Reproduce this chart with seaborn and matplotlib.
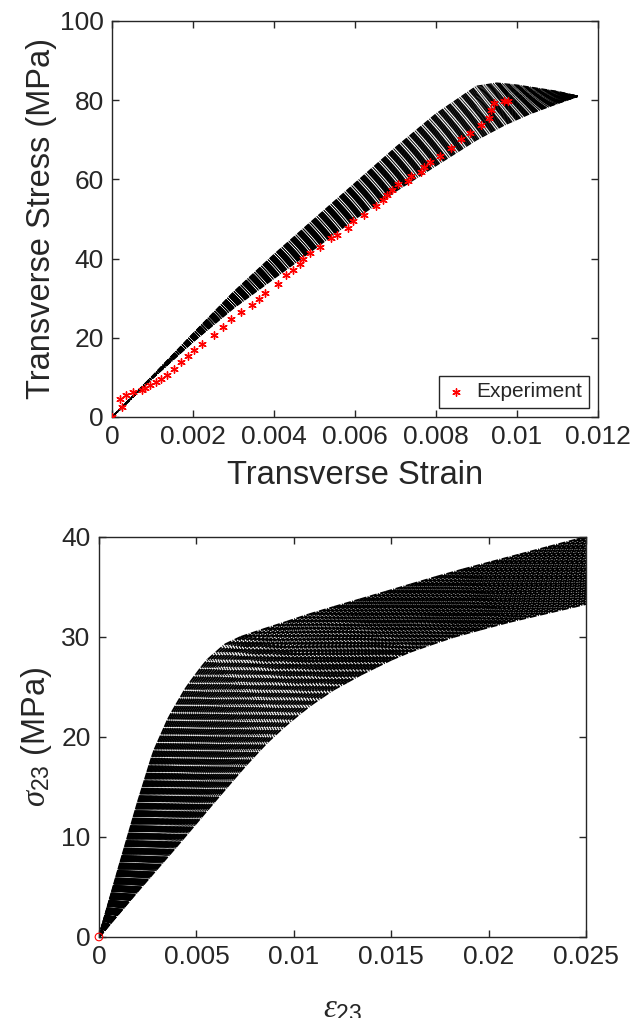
import numpy as np
import pandas as pd
import matplotlib
matplotlib.use('Agg')
import matplotlib.pyplot as plt
import seaborn as sns
from matplotlib.ticker import FuncFormatter

# experiment points, top panel (transverse strain, stress MPa)
exp_strain = [0.0, 0.000256, 0.00021, 0.000355, 0.00052, 0.00073, 0.00081, 0.00093, 0.00108,
              0.00122, 0.00135, 0.00153, 0.0017, 0.00187, 0.00203, 0.00223, 0.00252, 0.00273,
              0.00293, 0.00318, 0.00345, 0.00362, 0.00377, 0.00409, 0.0043, 0.00447, 0.00465,
              0.00472, 0.00488, 0.00513, 0.0054, 0.00556, 0.00583, 0.00596, 0.00622, 0.00651,
              0.00668, 0.00678, 0.00691, 0.00705, 0.0073, 0.00738, 0.00764, 0.00771, 0.00786,
              0.00811, 0.00837, 0.00862, 0.00884, 0.0091, 0.00932, 0.00936, 0.00943, 0.00968,
              0.00979]
exp_stress = [0.0, 2.5, 4.6, 5.5, 6.3, 6.9, 7.2, 8.0, 8.8,
              9.7, 10.5, 12.2, 13.9, 15.3, 17.0, 18.5, 20.6, 22.7,
              24.7, 26.5, 28.2, 29.7, 31.2, 33.7, 35.8, 37.2, 38.7,
              40.0, 41.3, 42.8, 45.1, 45.9, 47.7, 49.5, 51.1, 53.2,
              54.7, 56.0, 57.3, 58.9, 59.5, 60.9, 61.9, 63.2, 64.3,
              65.9, 68.0, 70.3, 71.6, 73.7, 75.6, 77.5, 79.3, 79.8,
              79.8]

# simulated band, top panel: stiffest and most compliant edge curves
top_stiff_strain = [0, 0.001, 0.002, 0.003, 0.004, 0.005, 0.006, 0.007, 0.008, 0.009, 0.0095, 0.010, 0.011, 0.0115]
top_stiff_stress = [0, 10.3, 21.0, 31.5, 41.0, 50.0, 59.0, 68.0, 76.5, 83.5, 84.3, 83.8, 82.2, 81.0]
top_soft_strain = [0, 0.001, 0.002, 0.003, 0.004, 0.005, 0.006, 0.007, 0.008, 0.009, 0.0097, 0.0103, 0.0109, 0.0115]
top_soft_stress = [0, 9.8, 19.0, 27.5, 35.0, 42.5, 50.0, 57.0, 63.5, 70.0, 73.8, 76.5, 78.8, 81.0]

# simulated band, bottom panel (shear strain eps23, sigma23 MPa)
bot_stiff_strain = [0, 0.001, 0.002, 0.0028, 0.0036, 0.0045, 0.0055, 0.0065, 0.0075, 0.009, 0.011, 0.014, 0.018, 0.025]
bot_stiff_stress = [0, 6.8, 13.5, 18.5, 22.0, 25.0, 27.6, 29.3, 30.2, 31.1, 32.4, 34.1, 36.4, 40.0]
bot_soft_strain = [0, 0.002, 0.004, 0.006, 0.0075, 0.0086, 0.0096, 0.0108, 0.012, 0.0135, 0.0155, 0.018, 0.0206, 0.025]
bot_soft_stress = [0, 4.6, 9.1, 13.7, 17.1, 19.4, 21.2, 23.1, 24.7, 26.3, 28.2, 29.9, 31.3, 33.3]

n_top_curves = 40
n_bot_curves = 55
bot_step = 0.75  # load step (MPa) of the bottom curves, dash pattern restarts each step


def band_frame(s_x, s_y, c_x, c_y, n):
    rows = []
    for i, w in enumerate(np.linspace(0, 1, n)):
        x = w * np.array(s_x) + (1 - w) * np.array(c_x)
        y = w * np.array(s_y) + (1 - w) * np.array(c_y)
        rows.append(pd.DataFrame({'strain': x, 'stress': y, 'curve': i}))
    return pd.concat(rows, ignore_index=True)


def step_segments(df, step):
    # split each curve into load steps so every step starts its own dash
    rows = []
    seg = 0
    for c, g in df.groupby('curve'):
        levels = np.arange(0, g['stress'].max() + step, step)
        levels[-1] = g['stress'].max()
        xs = np.interp(levels, g['stress'], g['strain'])
        for k in range(len(levels) - 1):
            rows.append((xs[k], levels[k], seg))
            rows.append((xs[k + 1], levels[k + 1], seg))
            seg += 1
    return pd.DataFrame(rows, columns=['strain', 'stress', 'seg'])


top_df = band_frame(top_stiff_strain, top_stiff_stress, top_soft_strain, top_soft_stress, n_top_curves)
bot_df = step_segments(band_frame(bot_stiff_strain, bot_stiff_stress, bot_soft_strain, bot_soft_stress,
                                  n_bot_curves), bot_step)
exp_df = pd.DataFrame({'strain': exp_strain, 'stress': exp_stress})

sns.set_theme(style='ticks')
ink = '#262626'
plt.rcParams['font.family'] = ['Liberation Sans', 'DejaVu Sans']
plt.rcParams['mathtext.fontset'] = 'custom'
plt.rcParams['mathtext.rm'] = 'Liberation Sans'
plt.rcParams['mathtext.it'] = 'Liberation Serif:italic'
plt.rcParams['xtick.direction'] = 'in'
plt.rcParams['ytick.direction'] = 'in'
plt.rcParams['xtick.top'] = True
plt.rcParams['ytick.right'] = True

fig = plt.figure(figsize=(6.32, 10.18), dpi=100)
ax1 = fig.add_axes([0.1772, 0.5904, 0.769, 0.389])
ax2 = fig.add_axes([0.1566, 0.0796, 0.7706, 0.3929])

dash = (0, (4.3, 0.9, 0.6, 0.9))

# top panel
sns.lineplot(data=top_df, x='strain', y='stress', units='curve', estimator=None, sort=False,
             color='black', lw=1.0, linestyle=dash, legend=False, ax=ax1)
sns.scatterplot(data=exp_df, x='strain', y='stress', marker=(6, 2, 0), s=28, color='red',
                edgecolor='red', linewidth=1.0, label='Experiment', ax=ax1, zorder=5)
ax1.set_xlim(0, 0.012)
ax1.set_ylim(0, 100)
ax1.set_xticks([0, 0.002, 0.004, 0.006, 0.008, 0.01, 0.012])
ax1.set_yticks([0, 20, 40, 60, 80, 100])
ax1.set_xlabel('Transverse Strain', fontsize=23.5, color=ink, labelpad=8)
ax1.set_ylabel('Transverse Stress (MPa)', fontsize=23.5, color=ink, labelpad=2)
leg = ax1.legend(loc='lower right', fontsize=15, frameon=True, fancybox=False, framealpha=1,
                 edgecolor=ink, handlelength=1.0, handletextpad=0.5, borderpad=0.3,
                 borderaxespad=0.45)
leg.get_frame().set_linewidth(1.0)

# bottom panel
sns.lineplot(data=bot_df, x='strain', y='stress', units='seg', estimator=None, sort=False,
             color='black', lw=1.4, linestyle=(0, (3.6, 0.7, 0.5, 0.7)), legend=False, ax=ax2)
sns.scatterplot(x=[0.0], y=[0.0], marker='o', s=30, facecolor='none', edgecolor='red',
                linewidth=0.8, ax=ax2, zorder=5, clip_on=False)
ax2.set_xlim(0, 0.025)
ax2.set_ylim(0, 40)
ax2.set_xticks([0, 0.005, 0.01, 0.015, 0.02, 0.025])
ax2.set_yticks([0, 10, 20, 30, 40])
ax2.set_xlabel(r'$\varepsilon_{23}$', fontsize=23.5, color=ink, labelpad=17)
ax2.set_ylabel(r'$\sigma_{23}$ (MPa)', fontsize=23.5, color=ink, labelpad=5)

fmt = FuncFormatter(lambda v, p: f'{v:g}')
for ax in (ax1, ax2):
    ax.xaxis.set_major_formatter(fmt)
    ax.yaxis.set_major_formatter(fmt)
    ax.tick_params(labelsize=19, colors=ink, length=5, width=1.0, pad=6)
    for sp in ax.spines.values():
        sp.set_color(ink)
        sp.set_linewidth(1.0)
        sp.set_visible(True)

fig.savefig('out.png', dpi=100)
